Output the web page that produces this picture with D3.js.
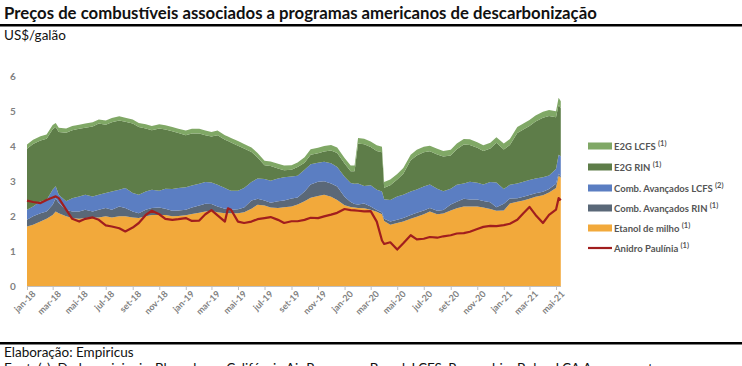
<!DOCTYPE html>
<html><head><meta charset="utf-8">
<script src="https://cdn.jsdelivr.net/npm/d3@7"></script>
<style>html,body{margin:0;padding:0;background:#fff;overflow:hidden}svg{display:block;font-family:Lato,"Open Sans",sans-serif}</style>
</head><body><svg id="c" width="742" height="366"></svg>
<script>
const dates = ["2018-01-01","2018-01-15","2018-02-01","2018-02-15","2018-03-01","2018-03-08","2018-03-15","2018-04-01","2018-04-15","2018-05-01","2018-05-15","2018-06-01","2018-06-15","2018-07-01","2018-07-15","2018-08-01","2018-08-15","2018-09-01","2018-09-15","2018-10-01","2018-10-15","2018-11-01","2018-11-15","2018-12-01","2018-12-15",
"2019-01-01","2019-01-15","2019-02-01","2019-02-15","2019-03-01","2019-03-15","2019-04-01","2019-04-08","2019-04-15","2019-05-01","2019-05-15","2019-06-01","2019-06-15","2019-07-01","2019-07-15","2019-08-01","2019-08-15","2019-09-01","2019-09-15","2019-10-01","2019-10-15","2019-11-01","2019-11-15","2019-12-01","2019-12-15",
"2020-01-01","2020-01-15","2020-01-24","2020-02-01","2020-02-15","2020-03-01","2020-03-15","2020-03-27","2020-04-01","2020-04-15","2020-05-01","2020-05-15","2020-06-01","2020-06-15","2020-07-01","2020-07-15","2020-08-01","2020-08-15","2020-09-01","2020-09-15","2020-10-01","2020-10-15","2020-11-01","2020-11-15","2020-12-01","2020-12-15",
"2021-01-01","2021-01-15","2021-02-01","2021-02-15","2021-03-01","2021-03-15","2021-04-01","2021-04-15","2021-05-01","2021-05-07","2021-05-12"];

const etanolMilho = [1.70,1.75,1.84,1.92,2.03,2.13,2.08,1.99,1.94,1.92,1.94,1.96,1.96,1.99,1.96,1.99,1.99,1.96,1.94,1.99,2.03,2.03,2.03,1.99,2.00,
2.02,2.06,2.09,2.13,2.14,2.11,2.08,2.08,2.08,2.08,2.11,2.21,2.32,2.30,2.24,2.23,2.25,2.27,2.33,2.42,2.52,2.57,2.61,2.55,2.46,
2.31,2.26,2.24,2.23,2.22,2.18,2.12,2.05,1.86,1.75,1.80,1.84,1.92,1.98,2.05,2.13,2.05,2.07,2.16,2.22,2.27,2.27,2.27,2.24,2.20,2.15,
2.16,2.36,2.41,2.44,2.49,2.55,2.59,2.67,2.80,3.15,3.09];

const combAvRIN = [0.19,0.24,0.24,0.21,0.29,0.38,0.29,0.19,0.19,0.21,0.24,0.17,0.22,0.24,0.22,0.28,0.24,0.17,0.14,0.19,0.20,0.21,0.18,0.16,0.16,
0.16,0.18,0.21,0.22,0.20,0.16,0.13,0.12,0.10,0.11,0.13,0.23,0.17,0.14,0.14,0.19,0.19,0.23,0.20,0.28,0.38,0.41,0.38,0.38,0.38,
0.24,0.14,0.10,0.10,0.14,0.09,0.05,0.05,0.06,0.09,0.09,0.10,0.11,0.11,0.11,0.10,0.10,0.10,0.17,0.19,0.22,0.20,0.20,0.19,0.19,0.10,
0.19,0.14,0.10,0.11,0.11,0.10,0.10,0.10,0.12,0.06,0.04];

const combAvLCFS = [0.29,0.28,0.34,0.33,0.43,0.34,0.24,0.24,0.38,0.43,0.43,0.43,0.43,0.43,0.52,0.48,0.57,0.53,0.53,0.52,0.52,0.48,0.57,0.62,0.64,
0.64,0.63,0.62,0.62,0.62,0.62,0.59,0.56,0.54,0.53,0.56,0.53,0.58,0.62,0.63,0.65,0.67,0.63,0.62,0.62,0.58,0.54,0.56,0.58,0.56,
0.57,0.54,0.58,0.60,0.50,0.61,0.58,0.60,0.56,0.62,0.67,0.67,0.67,0.67,0.68,0.67,0.63,0.54,0.45,0.48,0.44,0.51,0.48,0.47,0.58,0.71,
0.42,0.39,0.42,0.43,0.43,0.42,0.42,0.39,0.42,0.54,0.58];

const e2gRIN = [1.74,1.79,1.74,1.75,1.73,1.69,1.79,1.96,1.94,1.93,1.91,2.00,2.03,1.95,1.98,1.98,1.89,1.98,1.93,1.80,1.70,1.78,1.69,1.65,1.57,
1.49,1.49,1.44,1.34,1.31,1.42,1.38,1.38,1.38,1.29,1.13,0.86,0.60,0.39,0.42,0.29,0.20,0.19,0.25,0.20,0.27,0.27,0.29,0.36,0.40,
0.38,0.34,0.36,1.14,1.19,1.09,1.11,1.12,0.33,0.42,0.48,0.60,0.89,0.97,0.98,0.95,0.98,0.99,0.95,1.02,1.11,1.05,1.00,0.96,0.96,1.13,
1.13,1.14,1.44,1.49,1.54,1.63,1.70,1.70,1.48,1.43,1.37];

const e2gLCFS = [0.12,0.12,0.12,0.12,0.12,0.12,0.12,0.12,0.12,0.12,0.12,0.12,0.12,0.12,0.12,0.12,0.12,0.12,0.12,0.12,0.12,0.12,0.12,0.12,0.12,
0.13,0.13,0.13,0.13,0.13,0.13,0.13,0.13,0.13,0.13,0.13,0.13,0.13,0.13,0.13,0.13,0.13,0.13,0.13,0.16,0.16,0.16,0.16,0.16,0.16,
0.16,0.16,0.16,0.16,0.16,0.16,0.16,0.16,0.16,0.16,0.16,0.16,0.16,0.16,0.16,0.16,0.16,0.16,0.16,0.16,0.16,0.16,0.16,0.16,0.16,0.16,
0.17,0.17,0.17,0.17,0.17,0.17,0.17,0.17,0.17,0.20,0.20];

const anidroPaulinia = [2.44,2.40,2.37,2.46,2.53,2.56,2.51,2.18,1.92,1.84,1.92,1.96,1.89,1.73,1.70,1.65,1.56,1.67,1.80,2.03,2.15,2.05,1.92,1.89,1.91,
1.94,1.86,1.87,2.05,2.17,2.02,1.84,2.22,2.18,1.84,1.80,1.84,1.91,1.94,1.97,1.89,1.80,1.85,1.85,1.89,1.95,1.94,1.99,2.04,2.09,
2.20,2.17,2.16,2.15,2.13,2.14,1.84,1.30,1.20,1.25,1.04,1.22,1.45,1.33,1.35,1.40,1.38,1.42,1.45,1.50,1.51,1.55,1.63,1.69,1.72,1.71,
1.74,1.78,1.89,2.08,2.26,2.03,1.80,2.03,2.18,2.51,2.45];

const tickDates = ["2018-01-01","2018-03-01","2018-05-01","2018-07-01","2018-09-01","2018-11-01","2019-01-01","2019-03-01","2019-05-01","2019-07-01","2019-09-01","2019-11-01","2020-01-01","2020-03-01","2020-05-01","2020-07-01","2020-09-01","2020-11-01","2021-01-01","2021-03-01","2021-05-01"];
const tickLabels = ["jan-18","mar-18","mai-18","jul-18","set-18","nov-18","jan-19","mar-19","mai-19","jul-19","set-19","nov-19","jan-20","mar-20","mai-20","jul-20","set-20","nov-20","jan-21","mar-21","mai-21"];
const yTicks = [0,1,2,3,4,5,6];

const seriesKeys = ["etanol","cRIN","cLCFS","eRIN","eLCFS"];
const seriesNames = {eLCFS:"E2G LCFS", eRIN:"E2G RIN", cLCFS:"Comb. Avançados LCFS", cRIN:"Comb. Avançados RIN", etanol:"Etanol de milho"};
const seriesNotes = {eLCFS:"(1)", eRIN:"(1)", cLCFS:"(2)", cRIN:"(1)", etanol:"(1)"};
const colors = {etanol:"#F2A93B", cRIN:"#5A6878", cLCFS:"#5B7EC2", eRIN:"#5E7D49", eLCFS:"#80A866"};
const lineColor = "#A11E1E";

const parse = d3.timeParse("%Y-%m-%d");
const rows = dates.map((d,i)=>({date:parse(d), etanol:etanolMilho[i], cRIN:combAvRIN[i], cLCFS:combAvLCFS[i], eRIN:e2gRIN[i], eLCFS:e2gLCFS[i], anidro:anidroPaulinia[i]}));

const svg = d3.select("#c");
const x = d3.scaleTime().domain([parse("2018-01-01"), parse("2021-05-01")]).range([27, 556]);
const y = d3.scaleLinear().domain([0,6]).range([286, 76]);

// header
const title = svg.append("text").attr("x",4).attr("y",19).attr("font-weight","bold").attr("font-size",16).attr("fill","#111")
  .text("Preços de combustíveis associados a programas americanos de descarbonização");
const tw = title.node().getComputedTextLength();
title.attr("font-size", 16*593/tw);
svg.append("rect").attr("x",0).attr("y",24).attr("width",742).attr("height",2.5).attr("fill","#000");
svg.append("text").attr("x",4).attr("y",40).attr("font-size",13.5).attr("fill","#111").text("US$/galão");

// stacked areas
const stack = d3.stack().keys(seriesKeys);
const layers = stack(rows);
const area = d3.area().x(d=>x(d.data.date)).y0(d=>y(d[0])).y1(d=>y(d[1]));
svg.append("g").selectAll("path").data(layers).join("path")
  .attr("d",area).attr("fill",d=>colors[d.key]);

// line
const line = d3.line().x(d=>x(d.date)).y(d=>y(d.anidro));
svg.append("path").datum(rows).attr("d",line).attr("fill","none").attr("stroke",lineColor).attr("stroke-width",2.2).attr("stroke-linejoin","round");

// x axis
const xAxis = d3.axisBottom(x).tickValues(tickDates.map(parse)).tickFormat((d,i)=>tickLabels[i]).tickSize(4).tickSizeOuter(0);
const gx = svg.append("g").attr("transform","translate(0,286)").call(xAxis);
gx.select(".domain").attr("stroke","#BFBFBF").attr("d","M27,0.5H561");
gx.selectAll(".tick line").attr("stroke","#BFBFBF");
gx.selectAll(".tick text").attr("font-family","Lato, sans-serif").attr("font-size",9).attr("font-weight","bold").attr("fill","#7F7F7F")
  .attr("text-anchor","end").attr("transform","translate(2,2) rotate(-45)").attr("dx",0).attr("dy","0.6em").attr("y",4).attr("x",0);

// y axis labels
const yAxis = d3.axisLeft(y).tickValues(yTicks).tickFormat(d3.format("d")).tickSize(0).tickPadding(0);
const gy = svg.append("g").attr("transform","translate(17,0)").call(yAxis);
gy.select(".domain").remove();
gy.selectAll(".tick text").attr("font-family","Lato, sans-serif").attr("font-size",10).attr("font-weight","bold").attr("fill","#7F7F7F").attr("text-anchor","middle").attr("x",-4);

// legend
const legendOrder = ["eLCFS","eRIN","cLCFS","cRIN","etanol"];
const lg = svg.append("g");
const rowY = [146,167,188,208,228,248];
legendOrder.forEach((k,i)=>{
  lg.append("rect").attr("x",588).attr("y",rowY[i]-3.5).attr("width",24).attr("height",7).attr("fill",colors[k]);
  const t = lg.append("text").attr("x",614).attr("y",rowY[i]+3.5).attr("font-size",9.5).attr("font-weight","bold").attr("fill","#555");
  t.append("tspan").text(seriesNames[k]+" ");
  t.append("tspan").attr("font-size",7.5).attr("dy",-4).text(seriesNotes[k]);
});
lg.append("line").attr("x1",588).attr("x2",612).attr("y1",rowY[5]).attr("y2",rowY[5]).attr("stroke",lineColor).attr("stroke-width",2.2);
const t6 = lg.append("text").attr("x",614).attr("y",rowY[5]+3.5).attr("font-size",9.5).attr("font-weight","bold").attr("fill","#555");
t6.append("tspan").text("Anidro Paulínia ");
t6.append("tspan").attr("font-size",7.5).attr("dy",-4).text("(1)");

// footer
svg.append("rect").attr("x",0).attr("y",342).attr("width",742).attr("height",2.5).attr("fill","#000");
svg.append("text").attr("x",4).attr("y",357).attr("font-size",13.5).attr("fill","#111").text("Elaboração: Empiricus");
svg.append("text").attr("x",4).attr("y",373).attr("font-size",13.5).attr("fill","#111").text("Fonte(s): Dados originais: Bloomberg, Califórnia Air Resources Board, LCFS, Renovabio, Bolsa, LCA Assessment");
</script></body></html>
